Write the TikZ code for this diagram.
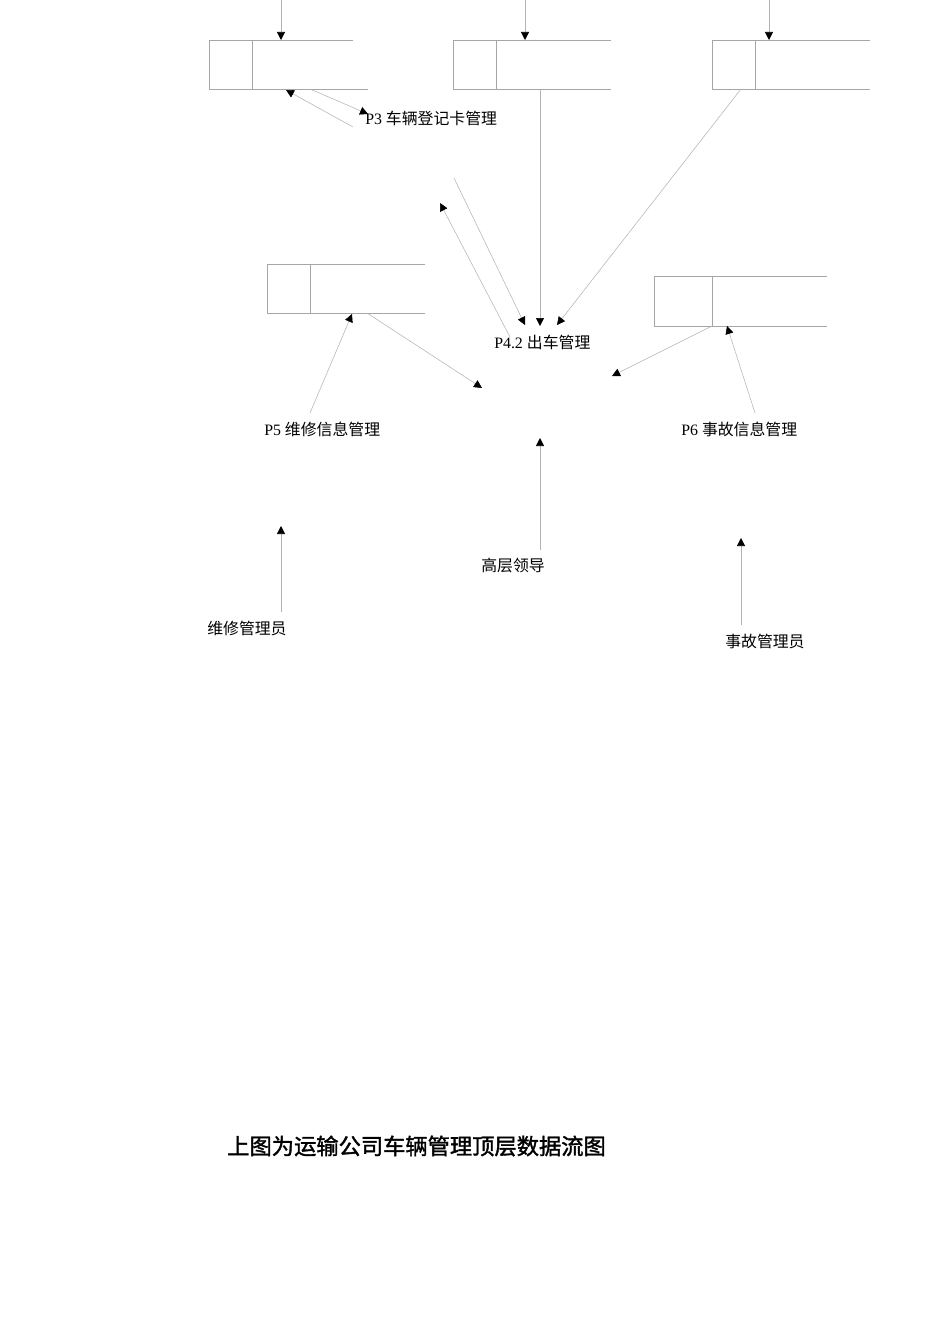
\documentclass[tikz,border=0pt]{standalone}
\usepackage{fontspec}
\setmainfont{Liberation Serif}
\newfontfamily\cjk{Noto Sans CJK SC}
\newfontfamily\cjkhead[UprightFeatures={FakeBold=1.6}]{Noto Sans CJK SC}
\usetikzlibrary{arrows.meta}

\begin{document}
\begin{tikzpicture}[x=0.75pt, y=-0.75pt]
    % Define display style
    \tikzstyle{storeline}=[gray!70, line width=0.5pt]
    \tikzstyle{flow}=[gray!60, line width=0.4pt, -{Triangle[length=6pt, width=6pt, color=black]}]
    \tikzstyle{tag}=[anchor=west, inner sep=0pt, font=\fontsize{11.9}{14}\selectfont]
    \tikzstyle{headline}=[anchor=west, inner sep=0pt, font=\cjkhead\fontsize{16.7}{20}\selectfont]

    \useasboundingbox (0,0) rectangle (950,1344);

    % Draw the data stores (left, top, divider, right top, right bottom, bottom)
    \foreach \l/\t/\d/\rt/\rb/\b in {209/40/252/353/368/89, 453/40/496/611/611/89,
                                      712/40/755/870/870/89, 267/264/310/425/425/313,
                                      654/276/712/827/827/326}
        \draw[storeline] (\rt,\t) -- (\l,\t) -- (\l,\b) -- (\rb,\b) (\d,\t) -- (\d,\b);

    % Create shortcuts for the texts
    \node[tag] (p3) at (365,118) {P3 {\cjk 车辆登记卡管理}};
    \node[tag] (p42) at (494,342) {P4.2 {\cjk 出车管理}};
    \node[tag] (p5) at (264,429) {P5 {\cjk 维修信息管理}};
    \node[tag] (p6) at (681,429) {P6 {\cjk 事故信息管理}};
    \node[tag] (leader) at (481,566) {\cjk 高层领导};
    \node[tag] (repairman) at (207,628) {\cjk 维修管理员};
    \node[tag] (accidentman) at (725,641) {\cjk 事故管理员};
    \node[headline] (caption) at (227,1146) {上图为运输公司车辆管理顶层数据流图};

    % Define coordinates of the flow ends
    \coordinate (s1out) at (310,89);   \coordinate (p3in) at (368,114);
    \coordinate (p3out) at (353,127);  \coordinate (s1in) at (286,90);
    \coordinate (p3down) at (454,178); \coordinate (p42inA) at (525,325);
    \coordinate (p42up) at (510,337);  \coordinate (p3inB) at (440,203);
    \coordinate (s2out) at (540,89);   \coordinate (p42inB) at (540,326);
    \coordinate (s3out) at (741,89);   \coordinate (p42inC) at (557,325);
    \coordinate (p5out) at (310,413);  \coordinate (s4in) at (352,314);
    \coordinate (s4out) at (367,313);  \coordinate (p4inD) at (482,388);
    \coordinate (s5out) at (712,326);  \coordinate (p4inE) at (612,376);
    \coordinate (p6out) at (755,413);  \coordinate (s5in) at (727,326);
    \coordinate (leaderout) at (540,550);    \coordinate (p4inF) at (540,438);
    \coordinate (repairout) at (281,612);    \coordinate (p5in) at (281,526);
    \coordinate (accidentout) at (741,625);  \coordinate (p6in) at (741,538);

    % Draw the flows from the top into the stores
    \foreach \x [count=\i] in {281, 525, 769} {
        \coordinate (src\i) at (\x,0);
        \coordinate (top\i) at (\x,40);
        \draw[flow] (src\i) -- (top\i);
    }

    % Draw the other flows
    \draw[flow] (s1out) -- (p3in);
    \draw[flow] (p3out) -- (s1in);
    \draw[flow] (p3down) -- (p42inA);
    \draw[flow] (p42up) -- (p3inB);
    \draw[flow] (s2out) -- (p42inB);
    \draw[flow] (s3out) -- (p42inC);
    \draw[flow] (p5out) -- (s4in);
    \draw[flow] (s4out) -- (p4inD);
    \draw[flow] (s5out) -- (p4inE);
    \draw[flow] (p6out) -- (s5in);
    \draw[flow] (leaderout) -- (p4inF);
    \draw[flow] (repairout) -- (p5in);
    \draw[flow] (accidentout) -- (p6in);
\end{tikzpicture}
\end{document}
